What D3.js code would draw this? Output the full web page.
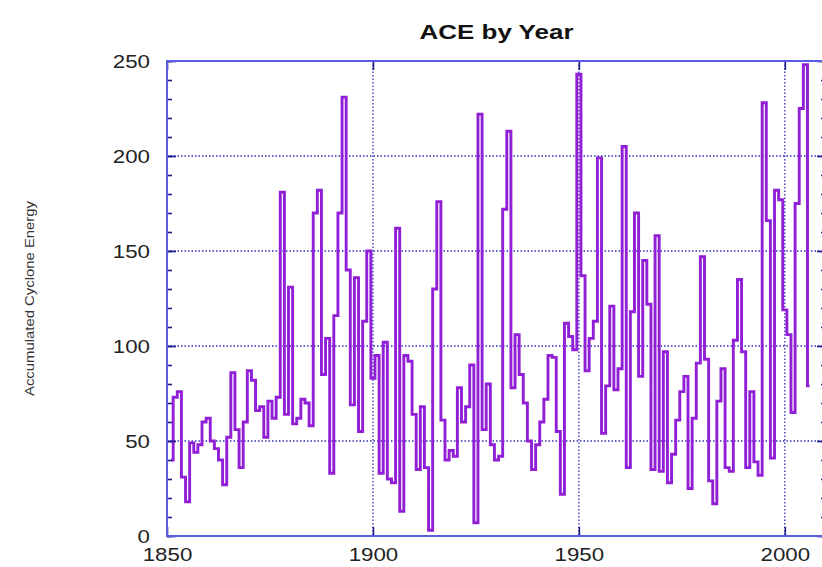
<!DOCTYPE html>
<html>
<head>
<meta charset="utf-8">
<script src="https://cdn.jsdelivr.net/npm/d3@7"></script>
<style>
  html, body { margin: 0; padding: 0; background: #fff; }
  svg { display: block; }
</style>
</head>
<body>
<svg id="chart" width="822" height="567"></svg>
<script>
// Atlantic accumulated cyclone energy, one value per season
const years = d3.range(1851, 2007);
const aceValues = [
  40, 73, 76, 31, 18, 49, 44, 48, 60,            // 1851-1859
  62, 50, 46, 40, 27, 52, 86, 56, 36, 60,        // 1860-1869
  87, 82, 66, 68, 52, 71, 62, 73, 181, 64,       // 1870-1879
  131, 59, 62, 72, 70, 58, 170, 182, 85, 104,    // 1880-1889
  33, 116, 170, 231, 140, 69, 136, 55, 113, 150, // 1890-1899
  83, 95, 33, 102, 30, 28, 162, 13, 95, 92,      // 1900-1909
  64, 35, 68, 36, 3, 130, 176, 61, 40, 45,       // 1910-1919
  42, 78, 60, 68, 90, 7, 222, 56, 80, 48,        // 1920-1929
  40, 42, 172, 213, 78, 106, 85, 70, 50, 35,     // 1930-1939
  48, 60, 72, 95, 94, 55, 22, 112, 105, 98,      // 1940-1949
  243, 137, 87, 104, 113, 199, 54, 79, 121, 77,  // 1950-1959
  88, 205, 36, 118, 170, 84, 145, 122, 35, 158,  // 1960-1969
  34, 97, 28, 43, 61, 76, 84, 25, 62, 91,        // 1970-1979
  147, 93, 29, 17, 71, 88, 36, 34, 103, 135,     // 1980-1989
  97, 36, 76, 39, 32, 228, 166, 41, 182, 177,    // 1990-1999
  119, 106, 65, 175, 225, 248, 79                // 2000-2006
];
const xTickValues = [1850, 1900, 1950, 2000];
const yTickValues = [0, 50, 100, 150, 200, 250];
const yMinorTicks = d3.range(0, 251, 10);
const titleText = "ACE by Year";
const yTitleText = "Accumulated Cyclone Energy";

const series = years.map((yr, i) => ({ year: yr, ace: aceValues[i] }));

const svg = d3.select("#chart");
const plotLeft = 167, plotRight = 826, plotTop = 61, plotBottom = 536;

const x = d3.scaleLinear().domain([1850, 2010]).range([plotLeft, plotRight]);
const y = d3.scaleLinear().domain([0, 250]).range([plotBottom, plotTop]);

const frameColor = "#5a5ae2";
const tickColor = "#1c1c86";
const gridColor = "#3030c0";
const lineColor = "#901fd6";
const labelFont = "'Liberation Sans', Arial, Helvetica, sans-serif";

// dotted grid
const grid = svg.append("g");
grid.selectAll("line.h")
  .data(yTickValues.filter(v => v > 0 && v < 250))
  .join("line")
  .attr("x1", plotLeft).attr("x2", plotRight)
  .attr("y1", d => y(d)).attr("y2", d => y(d))
  .attr("stroke", gridColor).attr("stroke-width", 1.3)
  .attr("stroke-dasharray", "1.5,2");
grid.selectAll("line.v")
  .data(xTickValues.filter(v => v > 1850))
  .join("line")
  .attr("x1", d => x(d)).attr("x2", d => x(d))
  .attr("y1", plotTop).attr("y2", plotBottom)
  .attr("stroke", gridColor).attr("stroke-width", 1.3)
  .attr("stroke-dasharray", "1.5,2");

// stepped ACE series
const line = d3.line()
  .x(d => x(d.year))
  .y(d => y(d.ace))
  .curve(d3.curveStep);
svg.append("path")
  .datum(series)
  .attr("d", line)
  .attr("fill", "none")
  .attr("stroke", lineColor)
  .attr("stroke-width", 2.9)
  .attr("stroke-linejoin", "miter");

// inward ticks on all four sides
function styleAxis(g) {
  g.select(".domain").remove();
  g.selectAll(".tick line").attr("stroke", tickColor).attr("stroke-width", 1.6);
}
svg.append("g").attr("transform", `translate(${plotLeft},0)`)
  .call(d3.axisLeft(y).tickValues(yMinorTicks).tickSize(-5).tickFormat(""))
  .call(styleAxis);
svg.append("g").attr("transform", `translate(${plotRight},0)`)
  .call(d3.axisRight(y).tickValues(yMinorTicks).tickSize(-5).tickFormat(""))
  .call(styleAxis);
svg.append("g").attr("transform", `translate(${plotRight},0)`)
  .call(d3.axisRight(y).tickValues(yTickValues).tickSize(-9).tickFormat(""))
  .call(styleAxis);
svg.append("g").attr("transform", `translate(0,${plotTop})`)
  .call(d3.axisTop(x).tickValues(xTickValues).tickSize(-9).tickFormat(""))
  .call(styleAxis);

const yAxis = svg.append("g").attr("transform", `translate(${plotLeft},0)`)
  .call(d3.axisLeft(y).tickValues(yTickValues).tickSize(-9).tickPadding(17).tickFormat(d3.format("d")))
  .call(styleAxis);
const xAxis = svg.append("g").attr("transform", `translate(0,${plotBottom})`)
  .call(d3.axisBottom(x).tickValues(xTickValues).tickSize(-9).tickPadding(10).tickFormat(d3.format("d")))
  .call(styleAxis);

[yAxis, xAxis].forEach(g => {
  g.selectAll(".tick text")
    .attr("font-family", labelFont)
    .attr("font-size", 19)
    .attr("fill", "#222")
    .attr("textLength", function () { return this.textContent.length * 12.4; })
    .attr("lengthAdjust", "spacingAndGlyphs");
});
xAxis.selectAll(".tick text").attr("dy", "0.78em");

// plot frame
svg.append("rect")
  .attr("x", plotLeft).attr("y", plotTop)
  .attr("width", plotRight - plotLeft).attr("height", plotBottom - plotTop)
  .attr("fill", "none")
  .attr("stroke", frameColor)
  .attr("stroke-width", 2);

// title
svg.append("text")
  .attr("x", (plotLeft + plotRight) / 2)
  .attr("y", 39)
  .attr("text-anchor", "middle")
  .attr("font-family", labelFont)
  .attr("font-weight", "bold")
  .attr("font-size", 21)
  .attr("fill", "#111")
  .attr("textLength", 154)
  .attr("lengthAdjust", "spacingAndGlyphs")
  .text(titleText);

// vertical axis title
svg.append("text")
  .attr("transform", `translate(34,${(plotTop + plotBottom) / 2}) rotate(-90)`)
  .attr("text-anchor", "middle")
  .attr("font-family", labelFont)
  .attr("font-size", 12.5)
  .attr("fill", "#333")
  .attr("textLength", 195)
  .attr("lengthAdjust", "spacingAndGlyphs")
  .text(yTitleText);
</script>
</body>
</html>
